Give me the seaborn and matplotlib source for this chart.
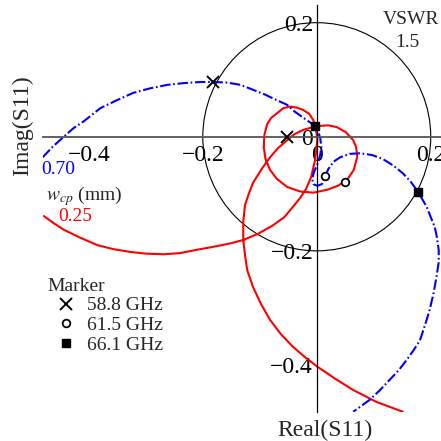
import matplotlib
matplotlib.use("Agg")
import matplotlib.pyplot as plt
import pandas as pd
import seaborn as sns
from matplotlib.lines import Line2D
from matplotlib.patches import Circle
from matplotlib.ticker import MultipleLocator, FuncFormatter

sns.set_style("white")
plt.rcParams["font.family"] = ["Liberation Serif", "DejaVu Serif"]
plt.rcParams["mathtext.fontset"] = "stix"
plt.rcParams["axes.unicode_minus"] = True

# S11 sweep, w_cp = 0.70 mm (real / imaginary parts)
blue_re = [-0.481, -0.464, -0.444, -0.427, -0.409, -0.380, -0.351, -0.322, -0.292,
           -0.262, -0.234, -0.204, -0.182, -0.157, -0.134, -0.111, -0.091, -0.070,
           -0.052, -0.040, -0.026, -0.013, -0.003, 0.002, 0.006, 0.008, 0.006,
           0.002, -0.005, -0.008, -0.006, 0.001, 0.009, 0.015, 0.020, 0.029,
           0.041, 0.058, 0.076, 0.097, 0.116, 0.135, 0.151, 0.165, 0.178,
           0.186, 0.193, 0.200, 0.207, 0.211, 0.214, 0.214, 0.210, 0.205,
           0.198, 0.190, 0.181, 0.170, 0.158, 0.144, 0.128, 0.111, 0.093,
           0.078, 0.064]
blue_im = [-0.036, -0.018, 0.000, 0.015, 0.027, 0.050, 0.064, 0.077, 0.085,
           0.091, 0.094, 0.096, 0.096, 0.095, 0.091, 0.082, 0.074, 0.064,
           0.056, 0.045, 0.035, 0.026, 0.019, 0.010, -0.002, -0.018, -0.032,
           -0.046, -0.062, -0.074, -0.083, -0.086, -0.083, -0.069, -0.057, -0.044,
           -0.036, -0.030, -0.029, -0.032, -0.039, -0.051, -0.064, -0.079, -0.097,
           -0.111, -0.123, -0.141, -0.158, -0.177, -0.199, -0.220, -0.246, -0.274,
           -0.304, -0.330, -0.357, -0.374, -0.391, -0.409, -0.426, -0.444, -0.461,
           -0.472, -0.482]

# S11 sweep, w_cp = 0.25 mm
red_re = [-0.479, -0.461, -0.444, -0.415, -0.385, -0.357, -0.327, -0.298, -0.269,
          -0.240, -0.210, -0.182, -0.152, -0.129, -0.103, -0.078, -0.057, -0.042,
          -0.029, -0.019, -0.010, -0.003, 0.001, -0.001, -0.006, -0.013, -0.024,
          -0.035, -0.047, -0.059, -0.070, -0.080, -0.087, -0.092, -0.093, -0.090,
          -0.082, -0.070, -0.052, -0.029, -0.006, 0.018, 0.037, 0.053, 0.065,
          0.071, 0.069, 0.064, 0.051, 0.035, 0.020, 0.006, -0.010, -0.024,
          -0.040, -0.052, -0.068, -0.082, -0.097, -0.112, -0.120, -0.126, -0.129,
          -0.129, -0.126, -0.122, -0.112, -0.099, -0.082, -0.063, -0.042, -0.020,
          0.001, 0.032, 0.064, 0.105, 0.151]
red_im = [-0.139, -0.152, -0.163, -0.177, -0.190, -0.197, -0.202, -0.205, -0.206,
          -0.204, -0.198, -0.193, -0.187, -0.181, -0.170, -0.156, -0.141, -0.123,
          -0.107, -0.092, -0.071, -0.041, -0.006, 0.012, 0.029, 0.040, 0.047,
          0.051, 0.053, 0.050, 0.041, 0.033, 0.022, 0.003, -0.018, -0.039,
          -0.058, -0.074, -0.088, -0.096, -0.098, -0.093, -0.086, -0.076, -0.058,
          -0.035, -0.018, -0.006, 0.008, 0.017, 0.020, 0.019, 0.016, 0.012,
          0.004, -0.006, -0.020, -0.036, -0.057, -0.081, -0.102, -0.120, -0.149,
          -0.181, -0.207, -0.234, -0.263, -0.291, -0.321, -0.346, -0.368, -0.387,
          -0.403, -0.424, -0.444, -0.465, -0.482]

# Marker frequencies and the S11 value of each trace at them
freq_labels = ["58.8 GHz", "61.5 GHz", "66.1 GHz"]
blue_mk_re = [-0.182, 0.015, 0.178]
blue_mk_im = [0.096, -0.069, -0.096]
red_mk_re = [-0.053, 0.050, -0.003]
red_mk_im = [0.000, -0.080, 0.019]

vswr = 1.5
tick_major = 0.2
tick_minor = 0.1

df = pd.concat([
    pd.DataFrame({"re": red_re, "im": red_im, "wcp": "0.25"}),
    pd.DataFrame({"re": blue_re, "im": blue_im, "wcp": "0.70"}),
], ignore_index=True)

fig = plt.figure(figsize=(4.41, 4.41), dpi=100)
ax = fig.add_axes([0.0968, 0.0664, 0.9032, 0.9223])

# constant-VSWR circle: |Gamma| = (VSWR - 1) / (VSWR + 1)
gamma = (vswr - 1) / (vswr + 1)
ax.add_patch(Circle((0, 0), gamma, fill=False, edgecolor="black", lw=0.8, zorder=1))

sns.lineplot(data=df, x="re", y="im", hue="wcp", style="wcp", sort=False,
             estimator=None,
             palette={"0.25": "#ff0000", "0.70": "#0000ff"},
             dashes={"0.25": "", "0.70": (5, 1.3, 0.8, 1.3)},
             linewidth=1.5, legend=False, ax=ax, zorder=2)

mk_styles = [dict(marker="x", ms=9, mew=1.4, color="black", mfc="black"),
             dict(marker="o", ms=5.5, mew=1.3, color="black", mfc="white"),
             dict(marker="s", ms=6, mew=1.0, color="black", mfc="black")]
for i, st in enumerate(mk_styles):
    ax.plot([blue_mk_re[i], red_mk_re[i]], [blue_mk_im[i], red_mk_im[i]],
            ls="none", zorder=4, **st)

ax.set_xlim(-0.481, 0.218)
ax.set_ylim(-0.482, 0.231)

for side in ("top", "right"):
    ax.spines[side].set_visible(False)
ax.spines["left"].set_position("zero")
ax.spines["bottom"].set_position("zero")
ax.spines["left"].set_color("black")
ax.spines["left"].set_linewidth(0.9)
ax.spines["bottom"].set_color("#555555")
ax.spines["bottom"].set_linewidth(1.3)

fmt = FuncFormatter(lambda v, p: "0" if abs(v) < 1e-9 else f"{v:.1f}".replace("-", "\u2212"))
for axis in (ax.xaxis, ax.yaxis):
    axis.set_major_locator(MultipleLocator(tick_major))
    axis.set_minor_locator(MultipleLocator(tick_minor))
    axis.set_major_formatter(fmt)
ax.tick_params(which="major", direction="inout", length=9, width=0.8, labelsize=17,
               colors="black")
ax.tick_params(which="minor", direction="inout", length=7, width=0.8, colors="black")
ax.tick_params(axis="x", which="major", pad=1.5)
ax.tick_params(axis="y", which="major", pad=-1.8)

ax.set_xlabel("Real(S11)", fontsize=17)
ax.xaxis.set_label_coords(0.709, -0.045)
ax.xaxis.label.set_verticalalignment("center")
ax.set_ylabel("Imag(S11)", fontsize=17)
ax.yaxis.set_label_coords(-0.051, 0.7025)
ax.yaxis.label.set_verticalalignment("center")

ax.text(0.165, 0.205, "VSWR", fontsize=14, ha="center", va="center")
ax.text(0.159, 0.165, f"{vswr}", fontsize=14, ha="center", va="center")
ax.text(-0.453, -0.058, "0.70", fontsize=14, color="#0000ff", ha="center", va="center")
ax.text(-0.408, -0.104, r"$w_{cp}$ (mm)", fontsize=14, ha="center", va="center")
ax.text(-0.423, -0.140, "0.25", fontsize=14, color="#ff0000", ha="center", va="center")

handles = [Line2D([], [], ls="none", **st) for st in mk_styles]
ax.legend(handles, freq_labels, title="Marker", loc="upper left",
          bbox_to_anchor=(0.0108, 0.329), frameon=False, fontsize=14,
          title_fontsize=14, handlelength=2, handletextpad=0.05,
          labelspacing=0.1, borderpad=0, borderaxespad=0, alignment="left")

fig.savefig("out.png", dpi=100)
